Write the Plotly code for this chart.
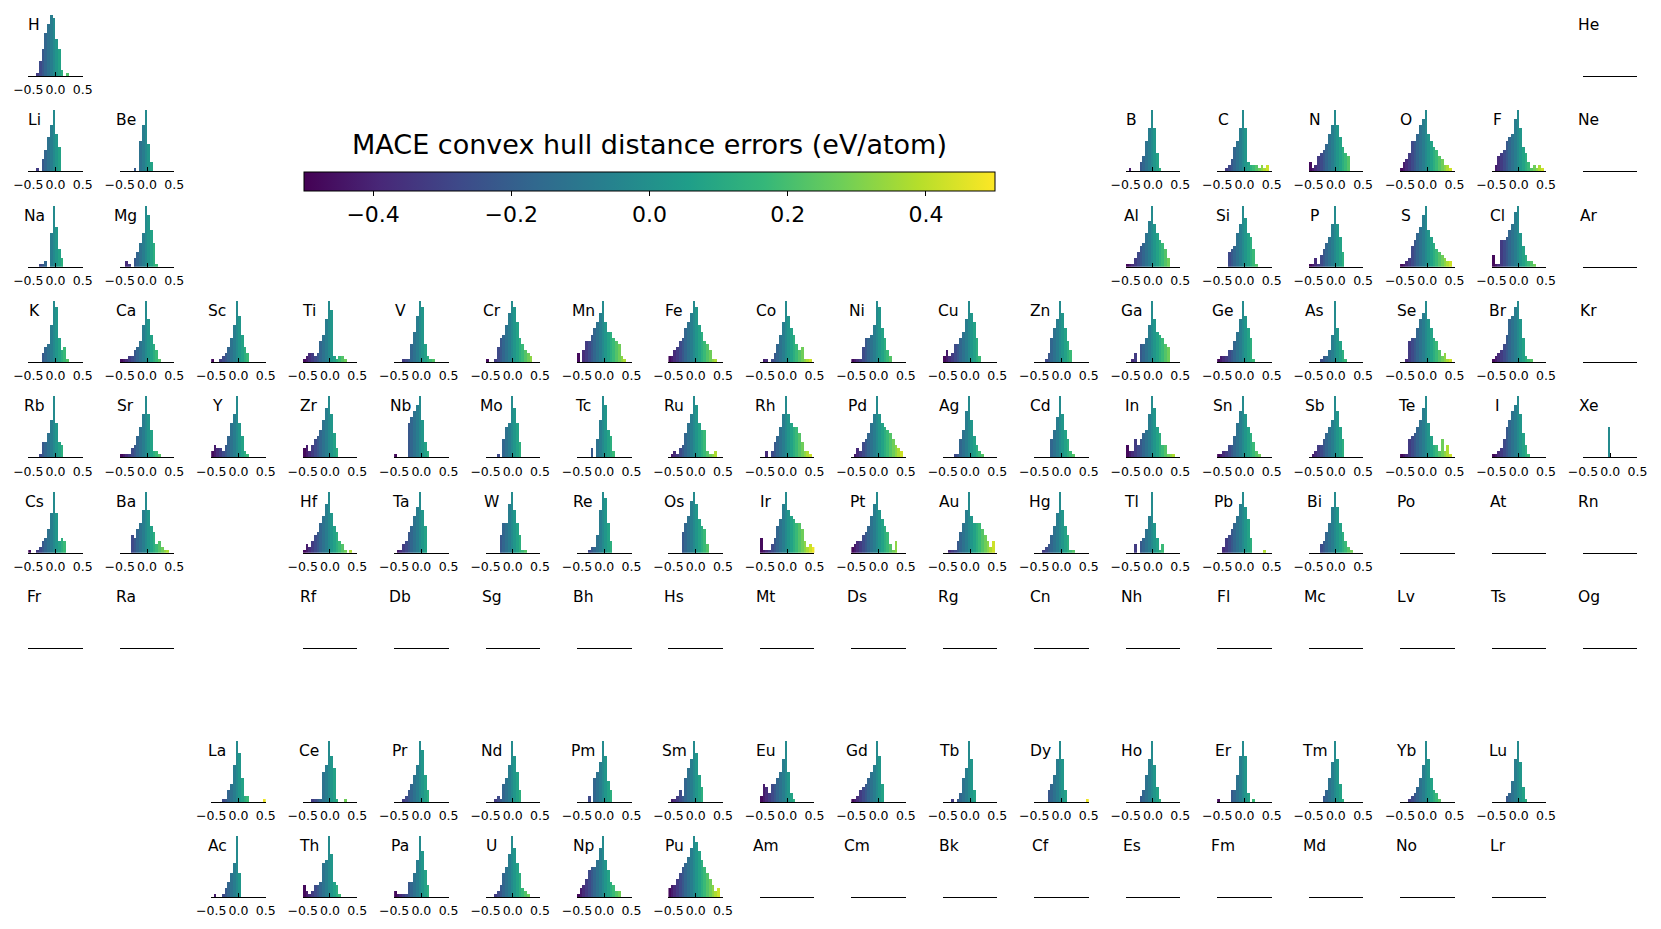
import plotly.graph_objects as go

# histogram bins (bin centres, width 0.05 eV/atom)
bin_centers = [-0.475, -0.425, -0.375, -0.325, -0.275, -0.225, -0.175, -0.125, -0.075, -0.025,
               0.025, 0.075, 0.125, 0.175, 0.225, 0.275, 0.325, 0.375, 0.425, 0.475]
hist_ticks = [-0.5, 0.0, 0.5]
hist_tick_text = ["−0.5", "0.0", "0.5"]
cbar_ticks = [-0.4, -0.2, 0.0, 0.2, 0.4]
cbar_tick_text = ["−0.4", "−0.2", "0.0", "0.2", "0.4"]
title = "MACE convex hull distance errors (eV/atom)"

# periodic table layout (None = gap)
main_table = [
    ["H"] + [None] * 16 + ["He"],
    ["Li", "Be"] + [None] * 10 + ["B", "C", "N", "O", "F", "Ne"],
    ["Na", "Mg"] + [None] * 10 + ["Al", "Si", "P", "S", "Cl", "Ar"],
    ["K", "Ca", "Sc", "Ti", "V", "Cr", "Mn", "Fe", "Co", "Ni", "Cu", "Zn", "Ga", "Ge", "As", "Se", "Br", "Kr"],
    ["Rb", "Sr", "Y", "Zr", "Nb", "Mo", "Tc", "Ru", "Rh", "Pd", "Ag", "Cd", "In", "Sn", "Sb", "Te", "I", "Xe"],
    ["Cs", "Ba", None, "Hf", "Ta", "W", "Re", "Os", "Ir", "Pt", "Au", "Hg", "Tl", "Pb", "Bi", "Po", "At", "Rn"],
    ["Fr", "Ra", None, "Rf", "Db", "Sg", "Bh", "Hs", "Mt", "Ds", "Rg", "Cn", "Nh", "Fl", "Mc", "Lv", "Ts", "Og"],
]
lanthanides = ["La", "Ce", "Pr", "Nd", "Pm", "Sm", "Eu", "Gd", "Tb", "Dy", "Ho", "Er", "Tm", "Yb", "Lu"]
actinides = ["Ac", "Th", "Pa", "U", "Np", "Pu", "Am", "Cm", "Bk", "Cf", "Es", "Fm", "Md", "No", "Lr"]

# relative bin heights (peak = 20)
period1 = {
    "H": [0, 0, 0, 1, 5, 9, 14, 17, 20, 19, 12, 9, 2, 0, 1, 0, 0, 0, 0, 0],
}
period2 = {
    "Li": [0, 0, 0, 1, 0, 4, 7, 11, 15, 20, 12, 8, 0, 0, 0, 0, 0, 0, 0, 0],
    "Be": [0, 0, 0, 0, 0, 1, 0, 10, 15, 20, 9, 3, 0, 0, 0, 0, 0, 0, 0, 0],
    "B": [0, 1, 0, 0, 0, 3, 5, 10, 14, 20, 14, 6, 1, 0, 0, 0, 0, 0, 0, 0],
    "C": [0, 0, 0, 1, 2, 4, 8, 10, 14, 20, 14, 3, 2, 2, 2, 1, 2, 1, 2, 0],
    "N": [3, 1, 2, 5, 6, 7, 9, 12, 15, 20, 15, 11, 8, 6, 5, 0, 0, 0, 0, 0],
    "O": [1, 3, 4, 6, 10, 10, 12, 15, 17, 20, 12, 10, 8, 7, 5, 4, 2, 2, 1, 0],
    "F": [0, 2, 5, 6, 7, 10, 11, 12, 17, 20, 14, 8, 6, 3, 1, 2, 1, 2, 1, 0],
}
period3 = {
    "Na": [0, 0, 0, 0, 1, 1, 2, 0, 11, 20, 13, 6, 3, 0, 0, 0, 0, 0, 0, 0],
    "Mg": [0, 0, 2, 1, 0, 3, 5, 8, 11, 20, 17, 12, 8, 1, 0, 0, 0, 0, 0, 0],
    "Al": [1, 1, 1, 3, 5, 7, 8, 11, 15, 20, 14, 11, 9, 8, 6, 3, 0, 0, 0, 0],
    "Si": [0, 0, 0, 0, 5, 6, 7, 11, 14, 20, 16, 11, 10, 6, 1, 0, 0, 0, 0, 0],
    "P": [1, 1, 3, 1, 4, 6, 8, 10, 14, 20, 14, 10, 5, 0, 0, 0, 0, 0, 0, 0],
    "S": [1, 1, 2, 3, 7, 9, 11, 13, 17, 20, 12, 10, 8, 6, 5, 4, 3, 2, 2, 0],
    "Cl": [4, 1, 1, 9, 9, 10, 12, 14, 18, 20, 11, 7, 4, 2, 2, 1, 0, 0, 0, 0],
}
period4 = {
    "K": [0, 0, 0, 0, 0, 3, 5, 6, 12, 20, 18, 8, 4, 5, 1, 0, 0, 0, 0, 0],
    "Ca": [1, 1, 1, 2, 2, 4, 5, 7, 12, 20, 14, 9, 6, 4, 1, 0, 0, 0, 0, 0],
    "Sc": [1, 0, 0, 1, 2, 3, 5, 8, 12, 20, 15, 9, 5, 3, 0, 0, 0, 0, 0, 0],
    "Ti": [1, 2, 3, 3, 2, 3, 7, 9, 14, 20, 17, 2, 1, 2, 2, 1, 0, 0, 0, 0],
    "V": [0, 0, 0, 1, 1, 1, 6, 10, 15, 20, 18, 6, 2, 1, 1, 0, 0, 0, 0, 0],
    "Cr": [1, 0, 0, 1, 5, 8, 9, 12, 16, 20, 18, 13, 8, 6, 4, 3, 2, 0, 0, 0],
    "Mn": [3, 0, 4, 7, 7, 9, 11, 13, 16, 20, 13, 10, 10, 8, 7, 6, 2, 1, 0, 0],
    "Fe": [2, 2, 4, 5, 7, 8, 11, 13, 16, 20, 18, 12, 10, 7, 6, 4, 1, 1, 0, 0],
    "Co": [0, 1, 1, 0, 1, 3, 6, 9, 13, 20, 15, 11, 9, 6, 4, 5, 1, 1, 1, 0],
    "Ni": [1, 1, 1, 1, 5, 8, 8, 9, 12, 20, 18, 11, 8, 4, 2, 0, 0, 0, 0, 0],
    "Cu": [2, 4, 2, 3, 6, 6, 8, 10, 14, 20, 16, 13, 8, 2, 0, 0, 0, 0, 0, 0],
    "Zn": [0, 0, 0, 0, 1, 3, 8, 11, 14, 20, 16, 11, 7, 4, 0, 0, 0, 0, 0, 0],
    "Ga": [0, 0, 1, 3, 0, 6, 6, 8, 12, 20, 14, 10, 9, 8, 6, 5, 0, 0, 0, 0],
    "Ge": [1, 2, 2, 2, 4, 4, 7, 10, 14, 20, 15, 11, 8, 1, 0, 0, 0, 0, 0, 0],
    "As": [0, 0, 0, 0, 1, 2, 2, 4, 9, 20, 11, 7, 4, 1, 0, 0, 0, 0, 0, 0],
    "Se": [0, 0, 1, 7, 8, 8, 11, 14, 16, 20, 14, 11, 8, 7, 4, 2, 3, 1, 1, 0],
    "Br": [1, 2, 3, 4, 6, 9, 14, 15, 18, 20, 14, 8, 2, 1, 1, 0, 0, 0, 0, 0],
}
period5 = {
    "Rb": [0, 0, 0, 0, 1, 5, 5, 8, 12, 20, 11, 5, 4, 0, 0, 0, 0, 0, 0, 0],
    "Sr": [1, 1, 1, 1, 3, 4, 7, 10, 14, 20, 14, 9, 2, 2, 1, 0, 0, 0, 0, 0],
    "Y": [2, 4, 3, 3, 2, 4, 7, 11, 14, 20, 11, 7, 2, 1, 0, 0, 0, 0, 0, 0],
    "Zr": [3, 4, 2, 4, 6, 7, 9, 12, 16, 20, 14, 8, 3, 0, 0, 0, 0, 0, 0, 0],
    "Nb": [1, 0, 0, 0, 0, 11, 13, 15, 17, 20, 12, 5, 2, 0, 0, 0, 0, 0, 0, 0],
    "Mo": [0, 0, 0, 0, 1, 0, 6, 10, 11, 20, 16, 11, 5, 0, 0, 0, 0, 0, 0, 0],
    "Tc": [0, 0, 0, 0, 0, 3, 0, 6, 12, 20, 17, 9, 7, 2, 0, 0, 0, 0, 0, 0],
    "Ru": [0, 1, 2, 1, 3, 4, 8, 11, 14, 20, 17, 11, 9, 9, 2, 1, 1, 2, 0, 0],
    "Rh": [0, 0, 2, 0, 2, 5, 7, 10, 14, 20, 14, 11, 10, 10, 8, 5, 2, 2, 1, 0],
    "Pd": [0, 1, 3, 2, 5, 6, 8, 11, 14, 20, 14, 11, 10, 9, 8, 6, 4, 3, 2, 0],
    "Ag": [0, 0, 0, 0, 1, 1, 6, 9, 15, 20, 12, 7, 4, 2, 1, 0, 0, 0, 0, 0],
    "Cd": [0, 0, 0, 0, 0, 0, 6, 9, 13, 20, 14, 9, 6, 2, 1, 0, 0, 0, 0, 0],
    "In": [4, 2, 2, 6, 4, 6, 8, 9, 14, 20, 16, 10, 8, 4, 4, 1, 1, 1, 0, 0],
    "Sn": [1, 1, 2, 2, 4, 4, 7, 11, 15, 20, 14, 10, 8, 5, 2, 1, 0, 0, 0, 0],
    "Sb": [0, 1, 2, 4, 4, 6, 8, 10, 12, 20, 15, 10, 6, 0, 0, 0, 0, 0, 0, 0],
    "Te": [1, 1, 1, 6, 7, 8, 10, 12, 16, 20, 11, 7, 4, 4, 2, 6, 2, 4, 1, 0],
    "I": [1, 1, 2, 3, 6, 10, 12, 15, 17, 20, 14, 8, 4, 1, 0, 0, 0, 0, 0, 0],
    "Xe": [0, 0, 0, 0, 0, 0, 0, 0, 0, 10, 0, 0, 0, 0, 0, 0, 0, 0, 0, 0],
}
period6 = {
    "Cs": [1, 0, 0, 1, 2, 4, 5, 8, 13, 20, 13, 4, 5, 4, 0, 0, 0, 0, 0, 0],
    "Ba": [0, 0, 0, 0, 6, 5, 8, 10, 14, 20, 14, 9, 7, 3, 4, 2, 1, 1, 0, 0],
    "Hf": [1, 3, 2, 4, 6, 7, 10, 12, 16, 20, 13, 9, 7, 4, 3, 1, 0, 1, 0, 0],
    "Ta": [0, 1, 1, 3, 4, 7, 9, 12, 15, 20, 14, 9, 0, 0, 0, 0, 0, 0, 0, 0],
    "W": [0, 0, 0, 0, 0, 6, 10, 10, 16, 20, 14, 10, 6, 1, 1, 0, 0, 0, 0, 0],
    "Re": [0, 0, 0, 0, 1, 2, 2, 6, 14, 20, 18, 10, 4, 0, 0, 0, 0, 0, 0, 0],
    "Os": [0, 0, 0, 0, 0, 7, 10, 12, 17, 20, 16, 11, 9, 8, 3, 0, 0, 0, 0, 0],
    "Ir": [5, 1, 1, 1, 3, 5, 9, 11, 16, 20, 14, 12, 11, 10, 10, 8, 4, 2, 3, 2],
    "Pt": [2, 3, 4, 4, 6, 7, 9, 12, 16, 20, 14, 11, 9, 7, 3, 1, 4, 0, 0, 0],
    "Au": [0, 0, 1, 1, 1, 4, 7, 10, 14, 20, 12, 10, 10, 10, 8, 6, 4, 2, 4, 0],
    "Hg": [0, 0, 0, 1, 2, 3, 6, 9, 13, 20, 14, 9, 6, 1, 1, 0, 0, 0, 0, 0],
    "Tl": [0, 0, 0, 3, 0, 4, 5, 8, 12, 20, 10, 5, 1, 3, 0, 0, 0, 0, 0, 0],
    "Pb": [0, 0, 2, 5, 6, 8, 10, 12, 16, 20, 15, 11, 5, 0, 0, 0, 0, 1, 0, 0],
    "Bi": [0, 0, 0, 0, 3, 4, 7, 10, 15, 20, 15, 10, 7, 4, 2, 1, 0, 0, 0, 0],
}
lanthanide_counts = {
    "La": [0, 0, 0, 0, 1, 1, 4, 6, 12, 20, 16, 8, 2, 2, 0, 0, 0, 0, 0, 1],
    "Ce": [0, 0, 0, 1, 1, 1, 1, 10, 12, 20, 15, 11, 1, 0, 0, 1, 0, 0, 0, 0],
    "Pr": [0, 0, 0, 1, 2, 4, 6, 9, 12, 20, 17, 9, 4, 0, 0, 0, 0, 0, 0, 0],
    "Nd": [0, 0, 0, 1, 2, 1, 6, 8, 12, 20, 15, 10, 4, 0, 0, 0, 0, 0, 0, 0],
    "Pm": [0, 0, 0, 0, 2, 0, 8, 10, 13, 20, 15, 7, 4, 0, 0, 0, 0, 0, 0, 0],
    "Sm": [0, 1, 1, 2, 4, 2, 8, 11, 14, 20, 16, 9, 5, 0, 0, 0, 0, 0, 0, 0],
    "Eu": [2, 6, 5, 3, 6, 6, 8, 10, 14, 20, 10, 3, 1, 0, 0, 0, 0, 0, 0, 0],
    "Gd": [1, 1, 2, 4, 5, 6, 8, 10, 12, 20, 15, 6, 0, 0, 0, 0, 0, 0, 0, 0],
    "Tb": [0, 0, 0, 1, 0, 1, 3, 8, 11, 20, 14, 4, 0, 0, 0, 0, 0, 0, 0, 0],
    "Dy": [0, 0, 0, 0, 0, 4, 6, 9, 14, 20, 14, 4, 0, 0, 0, 0, 0, 0, 0, 1],
    "Ho": [0, 0, 0, 0, 0, 2, 4, 9, 14, 20, 12, 5, 1, 0, 0, 0, 0, 0, 0, 0],
    "Er": [1, 0, 0, 0, 0, 4, 4, 9, 15, 20, 15, 3, 0, 1, 0, 0, 0, 0, 0, 0],
    "Tm": [0, 0, 0, 0, 0, 2, 4, 8, 13, 20, 14, 6, 1, 0, 0, 0, 0, 0, 0, 0],
    "Yb": [0, 0, 0, 1, 2, 3, 5, 8, 12, 20, 14, 8, 4, 3, 1, 0, 0, 0, 0, 0],
    "Lu": [0, 0, 0, 0, 0, 2, 3, 7, 14, 20, 13, 5, 1, 0, 0, 0, 0, 0, 0, 0],
}
actinide_counts = {
    "Ac": [0, 1, 0, 0, 1, 3, 5, 8, 11, 20, 8, 0, 0, 0, 0, 0, 0, 0, 0, 0],
    "Th": [4, 2, 1, 2, 4, 4, 5, 11, 12, 20, 14, 5, 4, 1, 0, 0, 0, 0, 0, 0],
    "Pa": [2, 1, 1, 1, 1, 5, 5, 8, 12, 20, 15, 9, 4, 0, 0, 0, 0, 0, 0, 0],
    "U": [0, 0, 0, 1, 2, 4, 8, 10, 14, 20, 16, 11, 8, 3, 2, 1, 0, 0, 0, 0],
    "Np": [1, 3, 4, 6, 9, 10, 10, 12, 16, 20, 12, 9, 5, 4, 2, 2, 0, 0, 0, 0],
    "Pu": [3, 4, 4, 6, 8, 10, 11, 13, 16, 20, 18, 15, 12, 10, 8, 6, 4, 2, 3, 0],
}

all_counts = {}
for d in (period1, period2, period3, period4, period5, period6, lanthanide_counts, actinide_counts):
    all_counts.update(d)

W, H = 1661, 929
FONT = "DejaVu Sans"

# cell placement in pixels: (symbol, column, y of axis line)
cells = []
for r, row in enumerate(main_table):
    for c, sym in enumerate(row):
        if sym:
            cells.append((sym, c + 1, 76 + r * 95.35))
for c, sym in enumerate(lanthanides):
    cells.append((sym, c + 3, 802))
for c, sym in enumerate(actinides):
    cells.append((sym, c + 3, 897.3))

fig = go.Figure()
axes = {}
annotations = []
first = True
for n, (sym, col, ay) in enumerate(cells, start=1):
    x0 = 28.3 + (col - 1) * 91.45
    xdom = [x0 / W, (x0 + 54.5) / W]
    ydom = [1 - ay / H, 1 - (ay - 64) / H]
    sfx = "" if n == 1 else str(n)
    xa = dict(domain=xdom, range=[-0.5, 0.5], anchor="y" + sfx, showgrid=False,
              zeroline=False, showline=True, linecolor="black", linewidth=1.2,
              fixedrange=True)
    counts = all_counts.get(sym)
    if counts:
        xa.update(tickmode="array", tickvals=hist_ticks, ticktext=hist_tick_text,
                  ticks="inside", ticklen=4, tickwidth=1.1, tickcolor="black",
                  ticklabelstandoff=2,
                  tickfont=dict(family=FONT, size=12.5, color="black"))
        xs = [b for b, v in zip(bin_centers, counts) if v > 0]
        ys = [v for v in counts if v > 0]
        marker = dict(color=xs, colorscale="Viridis", cmin=-0.5, cmax=0.5,
                      line=dict(width=0))
        if first:
            marker.update(showscale=True, colorbar=dict(
                orientation="h", x=304 / W, xanchor="left", len=691 / W, lenmode="fraction",
                y=1 - 172 / H, yanchor="top", thickness=19, ypad=0, xpad=0,
                outlinewidth=1, outlinecolor="black",
                tickmode="array", tickvals=cbar_ticks, ticktext=cbar_tick_text,
                ticks="outside", ticklen=5, tickcolor="black",
                tickfont=dict(family=FONT, size=22, color="black")))
            first = False
        fig.add_trace(go.Bar(x=xs, y=ys, width=0.05, marker=marker,
                             xaxis="x" + sfx, yaxis="y" + sfx,
                             showlegend=False, hoverinfo="skip"))
    else:
        xa.update(showticklabels=False, ticks="")
        # empty placeholder so the axis line is drawn
        fig.add_trace(go.Scatter(x=[None], y=[None], mode="lines", xaxis="x" + sfx,
                                 yaxis="y" + sfx, showlegend=False, hoverinfo="skip"))
    axes["xaxis" + sfx] = xa
    axes["yaxis" + sfx] = dict(domain=ydom, range=[0, 21], anchor="x" + sfx,
                               visible=False, fixedrange=True)
    annotations.append(dict(text=sym, x=(x0 + 6) / W, y=1 - (ay - 51) / H,
                            xref="paper", yref="paper", xanchor="center", yanchor="middle",
                            showarrow=False, font=dict(family=FONT, size=15.5, color="black")))

annotations.append(dict(text=title, x=649.5 / W, y=1 - 145 / H, xref="paper", yref="paper",
                        xanchor="center", yanchor="middle", showarrow=False,
                        font=dict(family=FONT, size=27, color="black")))

fig.update_layout(width=W, height=H, margin=dict(l=0, r=0, t=0, b=0, autoexpand=False),
                  paper_bgcolor="white", plot_bgcolor="white", bargap=0,
                  annotations=annotations, font=dict(family=FONT), **axes)

fig.write_html("out.html", config={"displayModeBar": False},
               post_script="document.body.style.margin='0';")
